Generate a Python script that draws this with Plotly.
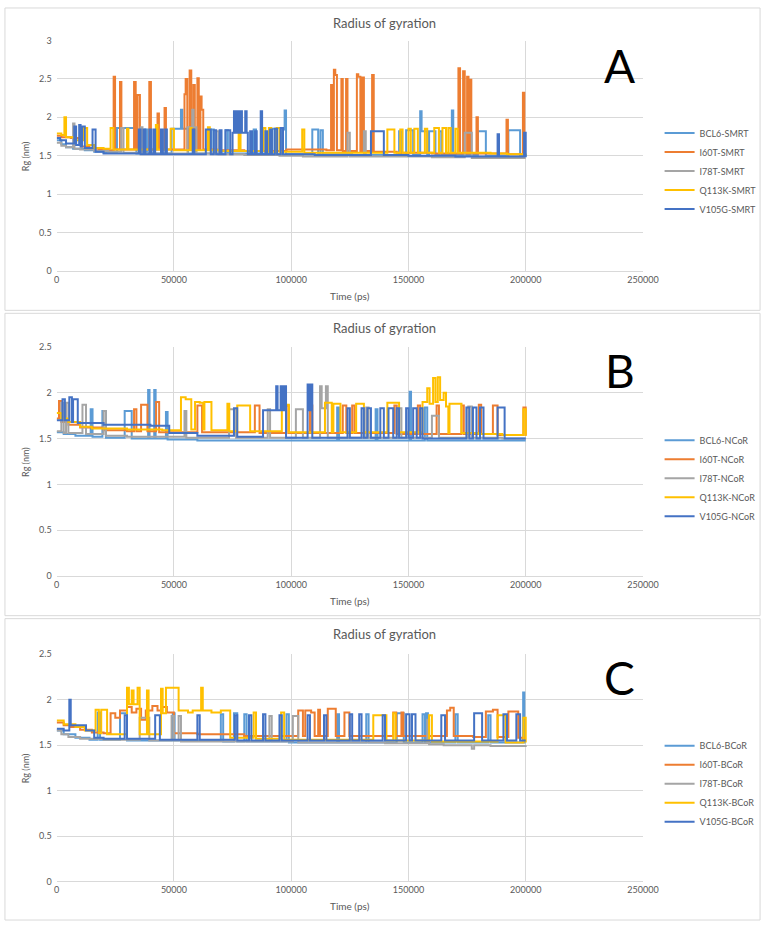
import plotly.graph_objects as go

# ---------------- data: (time in ps, Rg in nm) change points ----------------
series_names_A = ["BCL6-SMRT", "I60T-SMRT", "I78T-SMRT", "Q113K-SMRT", "V105G-SMRT"]
series_names_B = ["BCL6-NCoR", "I60T-NCoR", "I78T-NCoR", "Q113K-NCoR", "V105G-NCoR"]
series_names_C = ["BCL6-BCoR", "I60T-BCoR", "I78T-BCoR", "Q113K-BCoR", "V105G-BCoR"]

bcl6_smrt = [(0, 1.70), (2000, 1.65), (4000, 1.61), (7000, 1.59), (12000, 1.57), (16000, 1.55), (20000, 1.54),
             (25700, 1.86), (34000, 1.53), (37500, 1.84), (38500, 1.53),
             (49000, 1.85), (53000, 2.10), (53600, 1.85), (56000, 1.53),
             (58500, 1.84), (59500, 1.53), (66000, 1.84), (67000, 1.53), (72000, 1.83), (73000, 1.53),
             (84000, 1.84), (85000, 1.53), (92000, 1.85), (93500, 1.52), (96000, 1.84), (97200, 2.09), (97800, 1.52),
             (109000, 1.84), (111500, 1.52), (112500, 1.83), (113500, 1.52),
             (126000, 1.51), (146000, 1.82), (146800, 1.51), (149000, 1.83), (152000, 1.51),
             (155000, 2.08), (155600, 1.82), (158000, 1.51), (158800, 1.82), (161500, 1.51), (163000, 1.82), (164000, 1.51),
             (168500, 2.09), (169100, 1.51), (179600, 1.82), (183000, 1.50), (192600, 1.83), (197600, 1.50), (200000, 1.49)]
i60t_smrt = [(0, 1.76), (2000, 1.74), (6000, 1.73), (10500, 1.62), (14000, 1.59), (18000, 1.58), (22000, 1.57),
             (24300, 2.53), (24900, 1.58), (27000, 2.46), (27600, 1.58), (33000, 2.46), (33700, 1.58), (34500, 2.29), (35500, 1.58),
             (39500, 2.46), (40200, 1.58), (43000, 2.05), (43600, 1.58), (46000, 2.12), (46600, 1.58),
             (54500, 2.30), (55000, 2.50), (55700, 1.58), (56700, 2.61), (57400, 1.58), (58300, 2.42), (58900, 1.58),
             (60000, 2.51), (60600, 1.58), (61300, 2.27), (61800, 2.10), (62500, 1.58),
             (70000, 1.57), (80000, 1.56), (98000, 1.58), (115000, 1.57),
             (117000, 2.42), (117600, 1.57), (118200, 2.62), (118800, 2.55), (119500, 1.57), (121400, 2.50), (122000, 1.56),
             (123400, 2.50), (124000, 1.56), (128000, 2.56), (128600, 2.53), (129500, 1.56), (130300, 2.52), (131000, 1.56),
             (134500, 2.55), (135200, 1.55), (145000, 1.54), (160000, 1.53),
             (171300, 2.64), (172000, 1.53), (173300, 2.60), (174000, 1.53), (175000, 2.53), (175600, 1.53), (176200, 2.49), (176800, 1.53),
             (179000, 2.00), (179600, 1.53), (191800, 1.97), (192400, 1.52), (198800, 2.32), (199400, 1.52), (200000, 1.52)]
i78t_smrt = [(0, 1.67), (2000, 1.63), (4000, 1.61), (7000, 1.92), (7600, 1.59), (10000, 1.58), (16000, 1.56), (22000, 1.55),
             (27500, 1.86), (28500, 1.54), (35800, 1.87), (36600, 1.53),
             (55800, 1.87), (57800, 2.10), (58400, 1.87), (59600, 1.53), (68000, 1.82), (69000, 1.52),
             (80000, 1.51), (95000, 1.50), (105000, 1.49),
             (124000, 1.80), (125000, 1.49), (131000, 1.82), (131800, 1.49), (150000, 1.49), (160000, 1.48),
             (174000, 1.80), (177000, 1.47), (200000, 1.47)]
q113k_smrt = [(0, 1.79), (2000, 1.77), (3300, 2.00), (4000, 1.74), (8000, 1.70), (11600, 1.86), (13000, 1.64), (16000, 1.60),
              (20000, 1.59), (23000, 1.86), (24200, 1.58), (30000, 1.85), (30600, 1.58), (42300, 1.90), (43000, 1.58),
              (48600, 1.85), (50000, 1.57), (57000, 1.86), (57600, 1.57), (64500, 1.87), (65300, 1.57), (70000, 1.56),
              (77600, 1.85), (78400, 1.56), (88000, 1.86), (89000, 1.55), (90500, 1.86), (91500, 1.55), (93800, 1.86), (95000, 1.55),
              (104700, 1.84), (105600, 1.54),
              (141000, 1.84), (144000, 1.54), (146500, 1.84), (147500, 1.54), (150000, 1.85), (151000, 1.54), (152500, 1.85), (154000, 1.54),
              (157000, 1.85), (158000, 1.54), (161000, 1.86), (163000, 1.54), (164500, 1.86), (166000, 1.54), (167000, 1.86), (168000, 1.54),
              (170000, 1.85), (171000, 1.54), (185000, 1.53), (192000, 1.52), (200000, 1.53)]
v105g_smrt = [(0, 1.73), (1500, 1.70), (4000, 1.66), (7500, 1.88), (8300, 1.64), (9600, 1.90), (10200, 1.62), (10800, 1.88), (12000, 1.60),
              (15300, 1.84), (16600, 1.55), (20000, 1.53),
              (35000, 1.84), (35800, 1.52), (37000, 1.84), (37800, 1.52), (39500, 1.84), (40300, 1.52), (41300, 1.84), (42000, 1.52),
              (44500, 1.84), (45300, 1.52), (46300, 1.84), (47000, 1.52),
              (58000, 1.84), (58700, 1.52), (63600, 1.84), (65700, 1.52), (67000, 1.83), (68000, 1.52), (69500, 1.83), (70300, 1.52),
              (72000, 1.83), (74000, 1.52),
              (75000, 1.80), (75600, 2.08), (76200, 1.80), (77000, 2.08), (77600, 1.80), (78400, 2.08), (79000, 1.80), (80400, 2.08),
              (81000, 1.80), (81500, 1.52),
              (82500, 1.82), (83300, 1.52), (84500, 1.82), (85300, 1.52), (87000, 2.08), (87600, 1.52), (89000, 1.82), (89800, 1.52),
              (91000, 1.84), (91800, 1.52), (93000, 1.85), (94000, 1.52), (95500, 1.86), (96500, 1.52),
              (110000, 1.51), (134000, 1.82), (139500, 1.51), (150000, 1.50), (170000, 1.49),
              (188000, 1.78), (188600, 1.49), (199300, 1.80), (200000, 1.48)]

bcl6_ncor = [(0, 1.57), (3000, 1.55), (8000, 1.53), (14500, 1.82), (15300, 1.52), (19500, 1.80), (21000, 1.51),
             (29000, 1.80), (32000, 1.50), (39000, 2.03), (39600, 1.50), (41600, 2.03), (42200, 1.50), (46600, 1.79), (47300, 1.49),
             (60000, 1.48), (119600, 1.84), (120400, 1.48), (136000, 1.82), (136800, 1.48),
             (150500, 2.01), (151100, 1.48), (157000, 1.84), (158000, 1.48), (200000, 1.48)]
i60t_ncor = [(0, 1.72), (1000, 1.91), (2000, 1.68), (5000, 1.65), (10000, 1.62), (20000, 1.59), (30000, 1.58),
             (33000, 1.82), (34000, 1.58), (36000, 1.87), (38700, 1.58), (42400, 1.90), (43700, 1.57),
             (60000, 1.86), (62000, 1.57), (84500, 1.86), (86500, 1.56), (98000, 1.86), (99000, 1.56),
             (108000, 1.86), (109000, 1.56), (122000, 1.86), (123500, 1.56), (126000, 1.86), (127000, 1.56),
             (144000, 1.86), (145000, 1.55), (154000, 1.86), (155000, 1.55), (162000, 1.86), (163000, 1.55),
             (172600, 1.86), (173600, 1.55), (180000, 1.87), (181000, 1.55), (186000, 1.86), (188000, 1.54),
             (199000, 1.84), (200000, 1.53)]
i78t_ncor = [(0, 1.58), (2000, 1.89), (3000, 1.56), (4000, 1.89), (5000, 1.56), (11000, 1.87), (12500, 1.55),
             (20000, 1.80), (21000, 1.53), (30000, 1.52), (54500, 1.80), (55300, 1.51), (73500, 1.82), (76500, 1.51),
             (90000, 1.82), (91000, 1.51), (102000, 1.82), (105000, 1.51),
             (112300, 2.07), (113000, 1.83), (114800, 2.07), (115600, 1.51),
             (132000, 1.84), (133000, 1.51), (146000, 1.83), (147000, 1.51), (160000, 1.75), (163000, 1.51),
             (175500, 1.85), (177000, 1.51), (190000, 1.50), (200000, 1.50)]
q113k_ncor = [(0, 1.78), (2000, 1.72), (5000, 1.68), (10000, 1.63), (15000, 1.61), (30000, 1.60), (45000, 1.59),
              (53000, 1.95), (55000, 1.93), (57400, 1.60), (59000, 1.90), (61000, 1.89), (62500, 1.60), (63000, 1.90), (66000, 1.59),
              (72800, 1.88), (73600, 1.58), (77000, 1.86), (82500, 1.58), (96000, 1.87), (99000, 1.57),
              (114400, 1.89), (117300, 1.57), (118000, 1.88), (121000, 1.57), (127700, 1.88), (131000, 1.57),
              (141000, 1.89), (146000, 1.57),
              (156000, 1.90), (158000, 2.05), (159000, 1.88), (160500, 2.16), (161500, 1.90), (162500, 2.17), (163500, 1.92),
              (165000, 2.00), (166000, 1.85), (167000, 1.56), (167500, 1.88), (172600, 1.56),
              (180000, 1.55), (190000, 1.54), (199000, 1.82), (200000, 1.53)]
v105g_ncor = [(0, 1.70), (2500, 1.93), (3500, 1.70), (5400, 1.95), (6500, 1.68), (7000, 1.93), (9000, 1.67),
              (20000, 1.65), (40000, 1.64), (48000, 1.56), (60000, 1.53), (75600, 1.83), (77000, 1.52),
              (88000, 1.81), (93600, 2.07), (94200, 1.81), (95500, 2.07), (96300, 1.81), (97000, 2.07), (97800, 1.51),
              (107000, 2.09), (107800, 1.81), (108400, 2.09), (109000, 1.51),
              (124000, 1.83), (125000, 1.51), (130000, 1.83), (131000, 1.51), (132500, 1.83), (134000, 1.51),
              (138000, 1.83), (139500, 1.51), (141500, 1.83), (143500, 1.51),
              (145000, 1.83), (146000, 1.51), (149000, 1.83), (150000, 1.51), (152000, 1.83), (153500, 1.51), (155000, 1.83), (156000, 1.50),
              (174700, 1.84), (176000, 1.50), (177500, 1.84), (179000, 1.50), (180500, 1.84), (182000, 1.50),
              (188000, 1.84), (191000, 1.50), (200000, 1.50)]

bcl6_bcor = [(0, 1.66), (3000, 1.62), (8000, 1.58), (14000, 1.56), (17500, 1.86), (18500, 1.56), (27000, 1.85), (30000, 1.55),
             (49500, 1.85), (50300, 1.55), (70000, 1.84), (71000, 1.54), (75600, 1.85), (77000, 1.54), (80000, 1.84), (81000, 1.54),
             (98000, 1.84), (99000, 1.53), (119600, 1.84), (120400, 1.53), (132000, 1.84), (133000, 1.53),
             (145000, 1.85), (148000, 1.53), (156000, 1.84), (157000, 1.53), (157500, 1.85), (158300, 1.53),
             (170000, 1.84), (171000, 1.53), (184000, 1.83), (185000, 1.53), (198900, 2.08), (199400, 1.53), (200000, 1.53)]
i60t_bcor = [(0, 1.75), (3000, 1.72), (6000, 1.70), (10000, 1.67), (15000, 1.64), (20000, 1.63),
             (23000, 1.85), (25000, 1.80), (27000, 1.88), (30000, 1.92), (32000, 1.86), (34000, 1.90), (36000, 1.78), (38000, 1.88),
             (40800, 1.93), (43000, 1.88), (45000, 1.92), (47000, 1.86), (50000, 1.63),
             (60000, 1.62), (80000, 1.60), (103000, 1.88), (105000, 1.60), (106000, 1.88), (108500, 1.86), (110000, 1.60),
             (111500, 1.89), (112300, 1.60), (115600, 1.90), (119000, 1.60), (122700, 1.86), (124800, 1.60),
             (143500, 1.86), (144800, 1.60), (147000, 1.86), (147800, 1.60),
             (166400, 1.88), (167800, 1.91), (169300, 1.60), (177600, 1.59), (183000, 1.87), (186000, 1.89), (188000, 1.59),
             (192600, 1.87), (196800, 1.58), (200000, 1.58)]
i78t_bcor = [(0, 1.66), (2000, 1.62), (5000, 1.59), (10000, 1.57), (20000, 1.56), (35400, 1.80), (39500, 1.55),
             (49000, 1.82), (50000, 1.55), (52000, 1.82), (53000, 1.54), (90700, 1.82), (91700, 1.54), (100700, 1.82), (103000, 1.53),
             (120000, 1.53), (140000, 1.52), (158000, 1.78), (158800, 1.51), (165000, 1.50), (177000, 1.46), (178000, 1.50),
             (185000, 1.49), (200000, 1.50)]
q113k_bcor = [(0, 1.77), (3000, 1.73), (8000, 1.70), (12000, 1.66), (16600, 1.89), (18000, 1.63), (19000, 1.89), (21500, 1.62),
              (30000, 2.13), (30800, 1.95), (32000, 2.10), (32800, 1.95), (34500, 2.13), (35400, 1.62), (38500, 2.10), (39200, 1.62),
              (44500, 2.12), (45200, 1.85), (46600, 2.13), (52000, 1.88), (56000, 1.86), (58000, 1.88), (61600, 2.13), (62300, 1.88),
              (66000, 1.86), (70000, 1.88), (74000, 1.58),
              (84000, 1.86), (85000, 1.57), (95700, 1.86), (97000, 1.56), (135000, 1.83), (140600, 1.55), (143500, 1.85), (144500, 1.55),
              (158800, 1.83), (160000, 1.54), (188000, 1.83), (191400, 1.53), (199000, 1.80), (200000, 1.53)]
v105g_bcor = [(0, 1.68), (3000, 1.66), (5400, 2.00), (6000, 1.72), (12500, 1.66), (16000, 1.58), (20000, 1.57),
              (29000, 1.83), (30000, 1.57), (42000, 1.83), (44000, 1.56), (60000, 1.83), (61000, 1.56),
              (76000, 1.83), (77000, 1.55), (82000, 1.83), (83000, 1.55), (88000, 1.84), (89000, 1.55), (95000, 1.83), (96000, 1.55),
              (107000, 1.83), (108000, 1.55), (114000, 1.83), (115000, 1.55), (125000, 1.84), (126000, 1.55),
              (129000, 1.84), (130000, 1.55), (139000, 1.83), (140000, 1.55), (149000, 1.84), (150500, 1.55), (151500, 1.84), (153000, 1.55),
              (164000, 1.83), (165600, 1.55), (178000, 1.85), (181400, 1.55), (190500, 1.84), (192000, 1.55),
              (196000, 1.84), (197600, 1.55), (200000, 1.55)]

y_ticks_A = [0, 0.5, 1, 1.5, 2, 2.5, 3]
y_ticks_BC = [0, 0.5, 1, 1.5, 2, 2.5]
x_ticks = [0, 50000, 100000, 150000, 200000, 250000]

colors = ["#5B9BD5", "#ED7D31", "#A5A5A5", "#FFC000", "#4472C4"]

# ---------------- layout helpers ----------------
W, H = 779, 927
FONT = "Lato, Liberation Sans, sans-serif"
GRID = "#D9D9D9"
TXT = "#595959"


def px(x):
    return x / W


def py(y):
    return 1 - y / H


panels = [
    dict(names=series_names_A, data=[bcl6_smrt, i60t_smrt, i78t_smrt, q113k_smrt, v105g_smrt],
         yticks=y_ticks_A, ymax=3, top=35, bottom=268, title_y=17, letter="A", letter_y=60,
         leg_y=167, box=(2, 308), xlab_y=293),
    dict(names=series_names_B, data=[bcl6_ncor, i60t_ncor, i78t_ncor, q113k_ncor, v105g_ncor],
         yticks=y_ticks_BC, ymax=2.5, top=345, bottom=577, title_y=326, letter="B", letter_y=369,
         leg_y=478, box=(311, 617), xlab_y=602),
    dict(names=series_names_C, data=[bcl6_bcor, i60t_bcor, i78t_bcor, q113k_bcor, v105g_bcor],
         yticks=y_ticks_BC, ymax=2.5, top=656, bottom=886, title_y=636, letter="C", letter_y=680,
         leg_y=787, box=(620, 925), xlab_y=911),
]

fig = go.Figure()
annotations = []
shapes = []
layout = dict(
    width=W, height=H,
    margin=dict(l=0, r=0, t=0, b=0),
    paper_bgcolor="white", plot_bgcolor="white",
    font=dict(family=FONT, color=TXT, size=9),
)


def ann(text, x, y, size, color=TXT, angle=0):
    return dict(text=text, x=px(x), y=py(y), xref="paper", yref="paper", showarrow=False,
                xanchor="center", yanchor="middle", textangle=angle,
                font=dict(size=size, color=color, family=FONT))


for k, p in enumerate(panels):
    sfx = "" if k == 0 else str(k + 1)
    xa, ya = "x" + sfx, "y" + sfx
    leg = "legend" + sfx
    for name, pts, col in zip(p["names"], p["data"], colors):
        fig.add_trace(go.Scatter(
            x=[t for t, _ in pts], y=[v for _, v in pts], name=name, mode="lines",
            line=dict(color=col, width=2, shape="hv"),
            xaxis=xa, yaxis=ya, legend=leg,
        ))
    layout["xaxis" + sfx] = dict(
        domain=[px(55), px(656)], anchor=ya, range=[0, 250000],
        tickvals=x_ticks, tickformat="d", showgrid=True, gridcolor=GRID, gridwidth=1,
        showline=True, linecolor=GRID, zeroline=False, ticks="",
        tickfont=dict(size=9, color=TXT, family=FONT), fixedrange=True,
    )
    layout["yaxis" + sfx] = dict(
        domain=[py(p["bottom"]), py(p["top"])], anchor=xa, range=[0, p["ymax"]],
        tickvals=p["yticks"], showgrid=True, gridcolor=GRID, gridwidth=1,
        showline=False, zeroline=False, ticks="", ticklabelstandoff=4,
        tickfont=dict(size=9, color=TXT, family=FONT), fixedrange=True,
    )
    layout[leg] = dict(
        x=px(673), y=py(p["leg_y"]), xanchor="left", yanchor="middle",
        bgcolor="rgba(0,0,0,0)", font=dict(size=9, color=TXT, family=FONT),
        traceorder="normal",
    )
    annotations.append(ann("Radius of gyration", 391, p["title_y"], 13))
    annotations.append(ann("Rg (nm)", 23, (p["top"] + p["bottom"]) / 2, 9, angle=-90))
    annotations.append(ann("Time (ps)", 356, p["xlab_y"], 10))
    annotations.append(ann(p["letter"], 632, p["letter_y"], 46, color="black"))
    shapes.append(dict(type="rect", xref="paper", yref="paper",
                       x0=px(2), x1=px(776), y0=py(p["box"][1]), y1=py(p["box"][0]),
                       line=dict(color=GRID, width=1), fillcolor="rgba(0,0,0,0)", layer="below"))

layout["annotations"] = annotations
layout["shapes"] = shapes
fig.update_layout(**layout)
fig.write_html("out.html")
